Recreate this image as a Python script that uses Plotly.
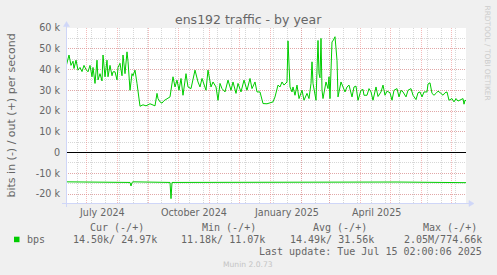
import pandas as pd
import plotly.graph_objects as go

# ---------------- data ----------------
START = "2024-06-10 02:00"
END = "2025-07-15 02:00"

# outgoing traffic (+), kbit/s, day offset from START
out_day = [0, 3, 5, 7, 8, 10, 12, 14, 16, 18, 20, 22, 24, 26, 27, 29, 31, 32, 34, 36, 37, 39, 41, 42,
           44, 46, 47, 49, 51, 52, 54, 56, 57, 59, 61, 62, 64, 66, 67, 69, 71, 72, 74, 77, 80, 84, 87,
           89, 91, 92, 94, 96, 98, 101, 104, 107, 109, 111, 113, 115, 117, 120, 122, 125, 127, 129,
           132, 134, 136, 138, 140, 142, 145, 147, 150, 152, 154, 156, 159, 162, 165, 167, 170, 172,
           175, 178, 181, 184, 186, 189, 191, 194, 196, 197, 201, 204, 207, 209, 212, 214, 216, 218,
           220, 221, 222, 224, 226, 227, 229, 231, 233, 236, 238, 241, 243, 245, 246, 247, 250, 252,
           253, 254, 255, 256, 257, 260, 262, 263, 264, 266, 267, 269, 271, 272, 273, 275, 277, 279,
           281, 283, 286, 288, 290, 292, 295, 297, 298, 301, 303, 305, 307, 310, 312, 315, 317, 319,
           321, 324, 326, 328, 331, 333, 335, 337, 340, 342, 345, 347, 350, 352, 354, 356, 358, 361,
           362, 364, 366, 368, 370, 372, 375, 377, 379, 381, 383, 386, 388, 390, 392, 395, 397, 398,
           399, 400]
out_kbps = [41.3, 47, 42, 44, 40.5, 44.5, 39.7, 41, 39, 42, 40, 38.9, 42, 36.5, 41, 33.3, 44.5, 35,
            38, 34.5, 47, 36.5, 44.5, 36.5, 42, 37, 38.9, 38.9, 35, 41, 43, 37, 47, 38, 48.5, 44, 30,
            38, 37, 39.7, 33.3, 30, 22.3, 23, 22.5, 23.5, 23, 22.5, 28.5, 26, 24.4, 23.8, 25, 26,
            26.8, 36.5, 31.6, 34.9, 30, 35.7, 27.6, 38, 31.6, 30.8, 35.7, 39.7, 34, 31.6, 35.7, 33.3,
            30, 39.7, 31.6, 34, 31.6, 25.2, 33.3, 30.8, 29.2, 34.9, 30, 34, 28.5, 33.3, 29.2, 34.9,
            30, 35.7, 30.8, 34, 29.2, 29.2, 24.4, 23.6, 23.5, 24, 24.4, 26.8, 32.5, 31.6, 34, 32.5,
            33.3, 34, 53.8, 31.6, 29.2, 31.6, 27.6, 32.5, 26, 30, 25.2, 28.5, 26, 33.3, 43.7, 33.3,
            25.2, 54, 38, 36, 55, 30, 26, 34, 30.8, 36.5, 26, 53.4, 53.8, 55.8, 44.5, 26.8, 29.2, 34,
            31.6, 29.2, 31.6, 32.5, 26.8, 31.6, 32, 25.2, 30, 30.4, 27.6, 27.6, 30.8, 29.2, 25.2,
            31.6, 27, 29.2, 32.5, 27.6, 29.6, 28.8, 25.2, 30, 30.8, 26.8, 30, 29.2, 26.8, 30, 30.8,
            27.6, 25.5, 28.8, 29.2, 26.8, 29.2, 29.2, 33, 33.6, 28.5, 27.6, 28.5, 29.6, 28.5, 27.6,
            28.8, 29.2, 25.2, 26, 24.4, 26, 24.8, 25.5, 26, 23.3, 25.2, 24.97]

# incoming traffic (-), kbit/s, day offset from START (plotted negative)
in_day = [0, 6, 7, 8, 30, 60, 63, 64, 65, 66, 67, 90, 103, 104, 105, 106, 107, 115, 116, 117, 127,
          128, 129, 152, 153, 200, 264, 265, 266, 330, 400]
in_kbps = [14.1, 14.1, 14.4, 14.1, 14.1, 14.1, 14.1, 14.4, 16.1, 14.4, 14.1, 14.1, 14.2, 14.4, 22.2,
           14.4, 14.4, 14.4, 14.1, 14.4, 14.4, 14.1, 14.4, 14.4, 14.1, 14.1, 14.1, 14.4, 14.1, 14.2,
           14.5]

y_ticks = [-20, -10, 0, 10, 20, 30, 40, 50, 60]
y_tick_text = ["-20 k", "-10 k", "0", "10 k", "20 k", "30 k", "40 k", "50 k", "60 k"]
month_starts = ["2024-07-01", "2024-08-01", "2024-09-01", "2024-10-01", "2024-11-01", "2024-12-01",
                "2025-01-01", "2025-02-01", "2025-03-01", "2025-04-01", "2025-05-01", "2025-06-01",
                "2025-07-01"]
label_months = ["2024-07-01", "2024-10-01", "2025-01-01", "2025-04-01"]
label_text = ["July 2024", "October 2024", "January 2025", "April 2025"]

title = "ens192 traffic - by year"
y_title = "bits in (-) / out (+) per second"
legend_head = ["Cur (-/+)", "Min (-/+)", "Avg (-/+)", "Max (-/+)"]
legend_vals = ["14.50k/ 24.97k", "11.18k/ 11.07k", "14.49k/ 31.56k", "2.05M/774.66k"]
series_name = "bps"
last_update = "Last update: Tue Jul 15 02:00:06 2025"
version = "Munin 2.0.73"
watermark = "RRDTOOL / TOBI OETIKER"

# ---------------- layout geometry ----------------
W, H = 497, 275
L, R, T, B = 66, 31, 28, 72
PW, PH = W - L - R, H - T - B


def px(x):
    return (x - L) / PW


def py(y):
    return (H - B - y) / PH


start = pd.Timestamp(START)
out_x = [start + pd.Timedelta(days=d) for d in out_day]
in_x = [start + pd.Timedelta(days=d) for d in in_day]
in_neg = [-v for v in in_kbps]

GREEN = "#00CC00"
FONT = "#666666"
AXIS = "#CFD6F8"
MGRID = "rgba(235,120,120,0.5)"
GRID = "rgba(175,175,175,0.5)"
DASH = "1px,1px"

fig = go.Figure()
fig.add_trace(go.Scatter(x=in_x, y=in_neg, mode="lines", line=dict(color=GREEN, width=1),
                         hoverinfo="skip", showlegend=False))
fig.add_trace(go.Scatter(x=out_x, y=out_kbps, mode="lines", line=dict(color=GREEN, width=1),
                         hoverinfo="skip", showlegend=False))

fig.update_layout(
    width=W, height=H,
    margin=dict(l=L, r=R, t=T, b=B, pad=0),
    paper_bgcolor="#F0F0F0", plot_bgcolor="#FFFFFF",
    showlegend=False,
    font=dict(family="DejaVu Sans", color=FONT, size=10),
    xaxis=dict(
        type="date", range=[START, END],
        tickvals=month_starts, showticklabels=False, ticks="",
        showgrid=True, gridcolor=MGRID, griddash=DASH, gridwidth=1,
        minor=dict(dtick=14 * 86400000, tick0="2025-03-15", showgrid=True,
                   gridcolor=GRID, griddash=DASH, gridwidth=1, ticks=""),
        zeroline=False, showline=False, fixedrange=True,
    ),
    yaxis=dict(
        range=[-24.3, 60],
        tickvals=y_ticks, ticktext=y_tick_text, ticks="",
        tickfont=dict(family="DejaVu Sans", size=9.6, color=FONT),
        ticklabelstandoff=5,
        showgrid=True, gridcolor=MGRID, griddash=DASH, gridwidth=1,
        minor=dict(dtick=5, tick0=0, showgrid=True, gridcolor=GRID, griddash=DASH,
                   gridwidth=1, ticks=""),
        zeroline=True, zerolinecolor="#000000", zerolinewidth=1,
        showline=False, fixedrange=True,
    ),
)

shapes = []
# axis lines and arrows
shapes.append(dict(type="line", xref="paper", yref="paper", x0=px(62), x1=px(470), y0=py(203.5), y1=py(203.5),
                   line=dict(color=AXIS, width=1)))
shapes.append(dict(type="line", xref="paper", yref="paper", x0=px(66.5), x1=px(66.5), y0=py(207), y1=py(24),
                   line=dict(color=AXIS, width=1)))
shapes.append(dict(type="path", xref="paper", yref="paper",
                   path=f"M {px(469)} {py(200.5)} L {px(474)} {py(203.5)} L {px(469)} {py(206.5)} Z",
                   fillcolor=AXIS, line=dict(color=AXIS, width=0.5)))
shapes.append(dict(type="path", xref="paper", yref="paper",
                   path=f"M {px(63.5)} {py(26.5)} L {px(66.5)} {py(21.5)} L {px(69.5)} {py(26.5)} Z",
                   fillcolor=AXIS, line=dict(color=AXIS, width=0.5)))
# legend colour box
shapes.append(dict(type="rect", xref="paper", yref="paper", x0=px(14), x1=px(19.5), y0=py(242.2), y1=py(236.7),
                   fillcolor=GREEN, line=dict(width=0)))
fig.update_layout(shapes=shapes)

ann = []
ann.append(dict(text=title, x=px(248.5), y=py(19), xref="paper", yref="paper", showarrow=False,
                xanchor="center", yanchor="middle", font=dict(size=12.5, color=FONT, family="DejaVu Sans")))
ann.append(dict(text=y_title, x=px(11), y=py(115.5), xref="paper", yref="paper", showarrow=False,
                textangle=-90, xanchor="center", yanchor="middle",
                font=dict(size=11, color=FONT, family="DejaVu Sans")))
for m, t in zip(label_months, label_text):
    ann.append(dict(text=t, x=pd.Timestamp(m) + pd.Timedelta(hours=15 * 24 + 6), xref="x", y=py(212), yref="paper",
                    showarrow=False, xanchor="center", yanchor="middle",
                    font=dict(size=9.6, color=FONT, family="DejaVu Sans")))
mono = dict(family="DejaVu Sans Mono", size=10, color=FONT)
for xs, t in zip([88.5, 200.5, 311.5, 422], legend_head):
    ann.append(dict(text=t.replace(" ", "&nbsp;"), x=px(xs), y=py(227.7), xref="paper", yref="paper",
                    showarrow=False, xanchor="left", yanchor="middle", borderpad=0, font=mono))
ann.append(dict(text=series_name, x=px(26), y=py(239.3), xref="paper", yref="paper", showarrow=False,
                xanchor="left", yanchor="middle", borderpad=0, font=mono))
for xs, t in zip([72, 179.5, 288.8, 402.8], legend_vals):
    ann.append(dict(text=t.replace(" ", "&nbsp;"), x=px(xs), y=py(239.3), xref="paper", yref="paper",
                    showarrow=False, xanchor="left", yanchor="middle", borderpad=0, font=mono))
ann.append(dict(text=last_update.replace(" ", "&nbsp;"), x=px(483), y=py(251), xref="paper", yref="paper",
                showarrow=False, xanchor="right", yanchor="middle", borderpad=0, font=mono))
ann.append(dict(text=version, x=px(248), y=py(264), xref="paper", yref="paper", showarrow=False,
                xanchor="center", yanchor="middle", borderpad=0,
                font=dict(family="DejaVu Sans", size=7.6, color="#C4C4C4")))
ann.append(dict(text=watermark, x=px(487.5), y=py(53), xref="paper", yref="paper", showarrow=False,
                textangle=90, xanchor="center", yanchor="middle", borderpad=0,
                font=dict(family="DejaVu Sans", size=7.4, color="#CCCCCC")))
fig.update_layout(annotations=ann)

fig.write_html("out.html", config={"displayModeBar": False})
